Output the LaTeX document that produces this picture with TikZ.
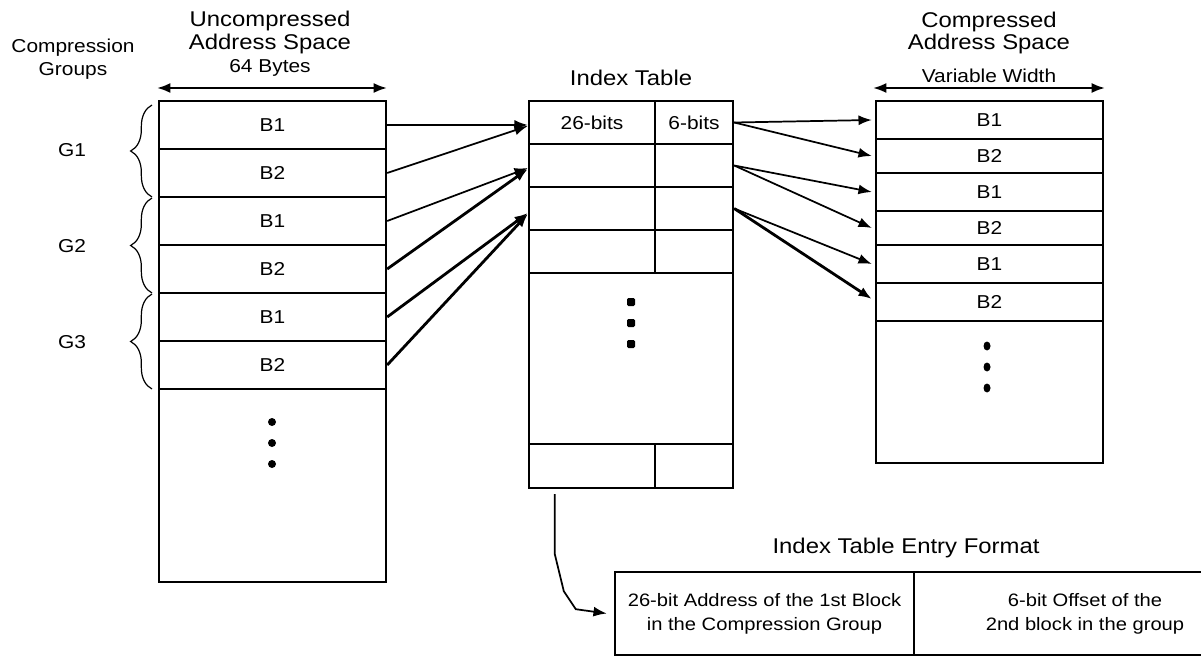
\documentclass[tikz,border=0pt]{standalone}
\usepackage{fontspec}
\setmainfont{Liberation Sans}[FakeStretch=1.12]
\usetikzlibrary{arrows.meta,decorations.pathreplacing,calc}
\newcommand\ttlf{\fontsize{16}{19}\selectfont}
\newcommand\lblf{\fontsize{14}{17}\selectfont}
\newcommand\entf{\fontsize{13.5}{18}\selectfont}
\begin{document}
\begin{tikzpicture}[x=0.75pt,y=-0.75pt,
  wh/.style 2 args={minimum width=#1*0.75pt, minimum height=#2*0.75pt},
  cell/.style={draw, line width=1.8pt, inner sep=0pt, font=\lblf},
  ttl/.style={anchor=base, font=\ttlf, inner sep=0pt},
  lbl/.style={anchor=base, font=\lblf, inner sep=0pt},
  arr/.style={-{Latex[length=10pt,width=7.5pt]}, line width=1.3pt},
  thk/.style={line width=2.1pt},
  dbl/.style={{Latex[length=10pt,width=7.5pt]}-{Latex[length=10pt,width=7.5pt]}, line width=1.7pt},
  brc/.style={decorate, decoration={brace, amplitude=16pt}, line width=0.9pt}]
\useasboundingbox (0,0) rectangle (1201,656);

% ---- titles
\node[lbl] (tcg1) at (73,53) {Compression};
\node[lbl] (tcg2) at (73,76) {Groups};
\node[ttl] (tu1) at (270,27) {Uncompressed};
\node[ttl] (tu2) at (270,50) {Address Space};
\node[lbl] (tu3) at (270,73) {64 Bytes};
\node[ttl] (tit) at (631,86) {Index Table};
\node[ttl] (tc1) at (989,28) {Compressed};
\node[ttl] (tc2) at (989,50) {Address Space};
\node[lbl] (tc3) at (989,83) {Variable Width};
\node[ttl] (tef) at (906,553) {Index Table Entry Format};

% ---- width arrows
\coordinate (ua) at (157,88); \coordinate (ub) at (387,88);
\draw[dbl] (ua) -- (ub);
\coordinate (ca) at (873,88); \coordinate (cb) at (1105,88);
\draw[dbl] (ca) -- (cb);

% ---- uncompressed column
\node[cell, wh={227}{48}] (L1) at (272.5,125) {B1};
\node[cell, wh={227}{48}] (L2) at (272.5,173) {B2};
\node[cell, wh={227}{48}] (L3) at (272.5,221) {B1};
\node[cell, wh={227}{48}] (L4) at (272.5,269) {B2};
\node[cell, wh={227}{48}] (L5) at (272.5,317) {B1};
\node[cell, wh={227}{48}] (L6) at (272.5,365) {B2};
\node[cell, wh={227}{193}] (LB) at (272.5,485.5) {};
\fill (272,422) circle (4);
\fill (272,443) circle (4);
\fill (272,464) circle (4);

% ---- braces and group labels
\draw[brc] (152,197) -- (152,105);
\draw[brc] (152,293) -- (152,198);
\draw[brc] (152,389) -- (152,294);
\node[lbl, anchor=center] (g1) at (72,150) {G1};
\node[lbl, anchor=center] (g2) at (72,246) {G2};
\node[lbl, anchor=center] (g3) at (72,342) {G3};

% ---- index table
\node[cell, wh={126}{43}] (IL1) at (592,122.5) {26-bits};
\node[cell, wh={78}{43}]  (IR1) at (694,122.5) {6-bits};
\node[cell, wh={126}{43}] (IL2) at (592,165.5) {};
\node[cell, wh={78}{43}]  (IR2) at (694,165.5) {};
\node[cell, wh={126}{43}] (IL3) at (592,208.5) {};
\node[cell, wh={78}{43}]  (IR3) at (694,208.5) {};
\node[cell, wh={126}{43}] (IL4) at (592,251.5) {};
\node[cell, wh={78}{43}]  (IR4) at (694,251.5) {};
\node[cell, wh={204}{171}] (IM) at (631,358.5) {};
\node[cell, wh={126}{44}] (ILB) at (592,466) {};
\node[cell, wh={78}{44}]  (IRB) at (694,466) {};
\fill[rounded corners=1pt] (627,298) rectangle (635,306);
\fill[rounded corners=1pt] (627,319) rectangle (635,327);
\fill[rounded corners=1pt] (627,340) rectangle (635,348);

% ---- compressed column
\node[cell, wh={227}{38}] (C1) at (989.5,120) {B1};
\node[cell, wh={227}{34}] (C2) at (989.5,156) {B2};
\node[cell, wh={227}{38}] (C3) at (989.5,192) {B1};
\node[cell, wh={227}{34}] (C4) at (989.5,228) {B2};
\node[cell, wh={227}{38}] (C5) at (989.5,264) {B1};
\node[cell, wh={227}{38}] (C6) at (989.5,302) {B2};
\node[cell, wh={227}{142}] (CB) at (989.5,392) {};
\fill (987,346) ellipse (3.5 and 4.5);
\fill (987,367) ellipse (3.5 and 4.5);
\fill (987,388) ellipse (3.5 and 4.5);

% ---- entry format box
\node[cell, wh={299}{83}, font=\entf, align=center] (E1) at (764.5,613.5)
  {26-bit Address of the 1st Block\\in the Compression Group};
\node[cell, wh={342}{83}, font=\entf, align=center] (E2) at (1085,613.5)
  {6-bit Offset of the\\2nd block in the group};

% ---- connectors: uncompressed -> index
\draw[arr] (L1.east) -- ($(IL1.west)+(0,2.5)$);
\draw[arr] (L2.east) -- ($(IL1.west)+(0,3.5)$);
\draw[arr] (L3.east) -- ($(IL2.west)+(0,2.5)$);
\draw[arr,thk] (L4.east) -- ($(IL2.west)+(0,3.5)$);
\draw[arr,thk] (L5.east) -- ($(IL3.west)+(0,4.5)$);
\draw[arr,thk] (L6.east) -- ($(IL3.west)+(0,5.5)$);

% ---- connectors: index -> compressed
\draw[arr] (IR1.east) -- ($(C1.west)+(-3,0)$);
\draw[arr] (IR1.east) -- ($(C2.west)+(-3,0)$);
\draw[arr] (IR2.east) -- ($(C3.west)+(-3,0)$);
\draw[arr] (IR2.east) -- ($(C4.west)+(-3,0)$);
\draw[arr] (IR3.east) -- ($(C5.west)+(-3,0)$);
\draw[arr,thk] (IR3.east) -- ($(C6.west)+(-3,-3)$);

% ---- connector: index -> entry format
\coordinate (s0) at ($(ILB.south west)+(27,5)$);
\draw[arr] (s0) -- ++(0,60) -- ++(9,37) -- ++(12,18) -- ($(E1.west)+(-7,0)$);
\end{tikzpicture}
\end{document}
